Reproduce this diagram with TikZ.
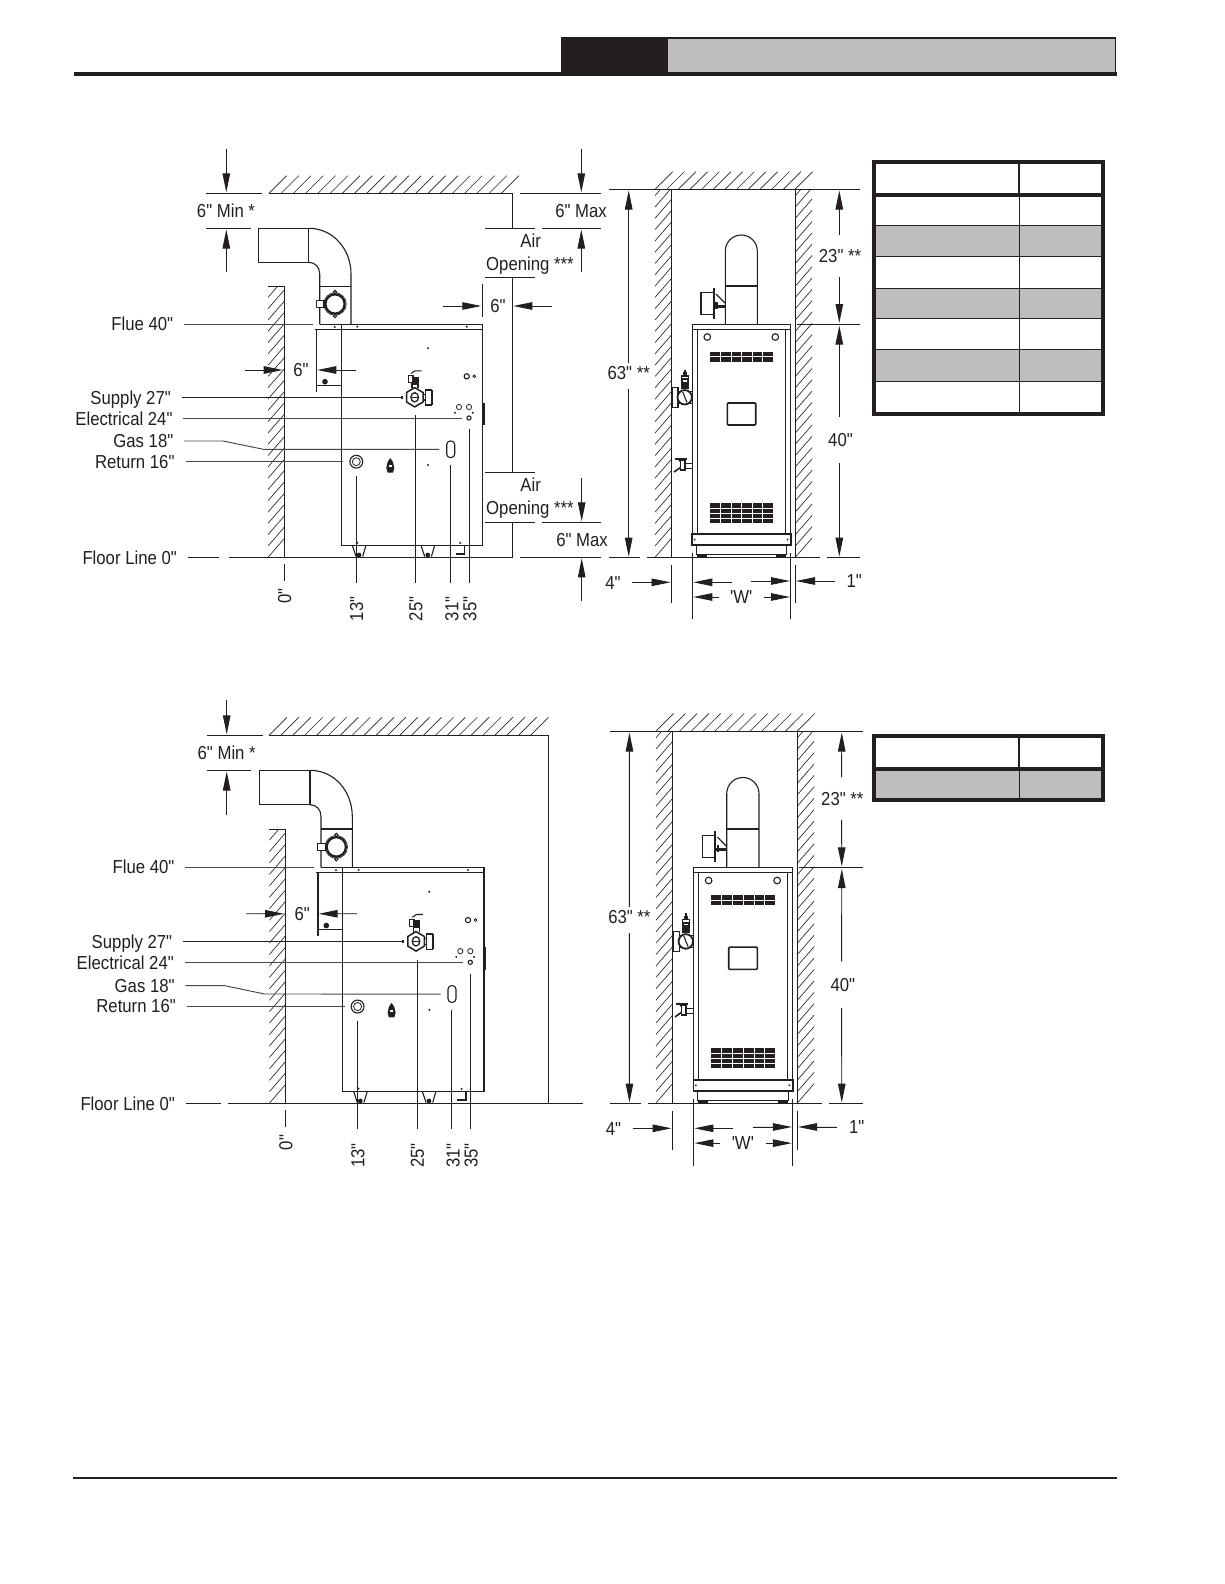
\documentclass[tikz,border=0pt]{standalone}
\usepackage{fontspec}
\usetikzlibrary{arrows.meta}
\newfontfamily\lf[FakeStretch=0.89]{Liberation Sans}
\definecolor{ink}{HTML}{231F20}
\definecolor{band}{HTML}{BFBEBC}
\tikzset{
  lbl/.style={font=\lf\fontsize{18.8}{20}\selectfont,inner sep=0pt,text=ink,text height=13.5pt,text depth=0pt},
  thin line/.style={line width=.95pt,draw=ink},
  ldr/.style={line width=.95pt,draw=black!72},
  dimarrow/.style={line width=.95pt,draw=ink,fill=ink,-{Triangle[length=19pt,width=7.5pt]}},
  hatchline/.style={line width=.65pt,draw=black!85},
  part/.style={line width=1.1pt,draw=ink},
  heavy/.style={line width=1.7pt,draw=ink},
  blob/.style={fill=ink,draw=none},
  rowline/.style={line width=.95pt,draw=ink},
  tableframe/.style={line width=3.7pt,draw=ink},
}
% hatched wall: x0 ytop x1 ybottom
\newcommand\hatchwall[4]{%
  \begin{scope}
    \clip (#1,#2) rectangle (#3,#4);
    \foreach \d in {0,11.3,...,440}{\draw[hatchline] (#1,#4-\d) -- ++(40,-46);}
  \end{scope}}
% hatched band: x0 x1 ybottom ytop
\newcommand\hatchband[4]{%
  \pgfmathtruncatemacro\hn{round((#2-#1)/12)}%
  \pgfmathsetmacro\hs{(#2-#1)/\hn}%
  \foreach \i in {0,...,\hn}{\draw[hatchline] (#1+\i*\hs,#3) -- (#1+\i*\hs+#3-#4,#4);}}
% ---------- side view of the boiler (with wall, leaders and dimensions)
\newcommand\sideview{%
  \hatchwall{268}{286.3}{284.3}{557.3}
  \draw[thin line] (268,286.3) -- (284.3,286.3) -- (284.3,557.3);
  % flue
  \draw[part] (308.7,228.3) -- (258.3,228.3) -- (258.3,262.3) -- (308.7,262.3);
  \draw[part] (308.7,228.3) -- (308.7,262.3);
  \draw[part] (308.7,228.3) .. controls (333,228.3) and (351,249) .. (351,274) -- (351,324.3);
  \draw[part] (308.7,262.3) .. controls (315,262.3) and (319.7,267) .. (319.7,274) -- (319.7,324.3);
  \draw[part] (319.7,286.3) -- (351,286.3);
  \draw[line width=2.2pt,draw=ink] (335,304) circle (9.6);
  \draw[line width=.7pt,draw=ink] (335,304) circle (11.2);
  \draw[part,fill=white] (335,292.2) circle (1.7);
  \draw[part,fill=white] (335,316) circle (1.7);
  \draw[part,fill=white] (316.3,300.3) rectangle (324,307.7);
  % boiler body
  \draw[part] (319.7,324.3) -- (482.7,324.3) -- (482.7,545.3) -- (341.3,545.3) -- (341.3,324.3);
  \draw[part] (314.7,329.3) -- (482.7,329.3);
  \draw[part] (316.7,329.3) -- (316.7,391.7);
  \draw[part] (316.7,385.3) -- (341.3,385.3);
  \fill[blob] (325,381.7) circle (2.8);
  \draw[line width=2pt,draw=ink] (483.5,403.3) -- (483.5,425.3);
  % small dots
  \foreach \p in {(428,348.3),(428,465),(357.3,326.7),(466.7,326.7),(334.7,327),(455,412.7),(472.7,412.7),(357.3,542.7),(460.3,543)}{\fill[blob] \p circle (1.1);}
  % openings
  \draw[part] (466.7,376.3) circle (2.6);
  \draw[line width=.8pt,draw=ink] (474.3,376.3) circle (1.4);
  \draw[line width=.8pt,draw=ink] (459,407) circle (2.6);
  \draw[line width=.8pt,draw=ink] (469,407) circle (2.6);
  \draw[part] (469,418) circle (2.1);
  \draw[part,rounded corners=3.6pt] (446.7,441) rectangle (454.7,457.6);
  \draw[part] (356.3,461.7) circle (6.4);
  \draw[line width=.8pt,draw=ink] (356.3,461.7) circle (4);
  \fill[blob] (390.3,458) -- (393,462) -- (394.3,468) -- (393,472.5) -- (387.6,472.5) -- (386.3,468) -- (387.6,462) -- cycle;
  \fill[white] (388.7,465) rectangle (391.9,467);
  % supply valve
  \draw[line width=1.5pt,draw=ink] (414.7,387.6) -- (423,392.5) -- (423,402) -- (414.7,406.9) -- (406.5,402) -- (406.5,392.5) -- cycle;
  \draw[line width=1.3pt,draw=ink] (414.7,397.3) ellipse (3.8 and 4.6);
  \draw[line width=1pt,draw=ink] (411.5,397.3) -- (418,397.3);
  \draw[part] (423,394.5) -- (425.5,394.5) -- (425.5,400) -- (423,400);
  \draw[part,fill=white] (425.5,390) rectangle (431.5,405);
  \draw[line width=2pt,draw=ink] (432,390) -- (432,405);
  \fill[blob] (400.5,395.5) rectangle (402.5,398.5);
  \draw[part] (412,388) -- (412,383) -- (418,383) -- (418,388);
  \fill[blob] (411.5,376.5) rectangle (418.5,384.5);
  \draw[part] (408.5,375.3) rectangle (413,382.5);
  \draw[part] (411,373.5) -- (415,370.8) -- (421.5,370.8);
  % feet and bracket
  \foreach \x in {359,427.7}{
    \draw[part] (\x-6.7,545.3) -- (\x-3,556.5);
    \draw[part] (\x+7,545.3) -- (\x+3.7,556.5);
    \fill[blob] (\x,555) circle (2.4);}
  \draw[line width=1.4pt,draw=ink] (464.7,545.7) -- (464.7,554) -- (456,554);
  % leaders
  \node[lbl,anchor=east] (flue) at (173.3,324) {Flue 40"};
  \node[lbl,anchor=east] (supply) at (171,397.3) {Supply 27"};
  \node[lbl,anchor=east] (elec) at (172.7,418.3) {Electrical 24"};
  \node[lbl,anchor=east] (gas) at (173.5,441) {Gas 18"};
  \node[lbl,anchor=east] (ret) at (174.7,461.3) {Return 16"};
  \coordinate (flueend) at (312.7,324);
  \coordinate (supplyend) at (402,397.3);
  \coordinate (elecend) at (461.7,418.3);
  \coordinate (gasend) at (439.3,449.3);
  \coordinate (retend) at (343.3,461.3);
  \draw[ldr] ([xshift=10.7pt]flue.east) -- (flueend);
  \draw[thin line] ([xshift=11pt]supply.east) -- (supplyend);
  \draw[ldr] ([xshift=10.5pt]elec.east) -- (elecend);
  \draw[ldr] ([xshift=10.5pt]gas.east) -- (223,441) -- (263.3,449.3) -- (gasend);
  \draw[ldr] ([xshift=11.3pt]ret.east) -- (retend);
  % clearance 6 in
  \node[lbl] (six) at (301,370) {6"};
  \coordinate (wl) at (282.7,370);
  \coordinate (wr) at (317.3,370);
  \draw[dimarrow] (245,370) -- (wl);
  \draw[dimarrow] (355.7,370) -- (wr);
  % vertical witness lines
  \draw[thin line] (284.3,564) -- (284.3,581);
  \draw[thin line] (356.3,476) -- (356.3,582.7);
  \draw[thin line] (415.7,415.3) -- (415.7,582.7);
  \draw[thin line] (450.3,465) -- (450.3,582.7);
  \draw[thin line] (469.3,429.3) -- (469.3,582.7);
  \node[lbl,rotate=90] (n0) at (284.3,596) {0"};
  \node[lbl,rotate=90] (n13) at (356.3,609) {13"};
  \node[lbl,rotate=90] (n25) at (415.7,609) {25"};
  \node[lbl,rotate=90] (n31) at (451.5,609) {31"};
  \node[lbl,rotate=90] (n35) at (469.5,609) {35"};
}
% ---------- louvers of the front view
\newcommand\louver[3]{%
  \fill[blob] (710,#1) rectangle (772.7,#2);
  \foreach \x in {720.3,731,741.7,752.3,762.3}{\draw[white,line width=.9pt] (\x,#1) -- (\x,#2);}
  \foreach \y in {#3}{\draw[white,line width=.9pt] (710,\y) -- (772.7,\y);}}
% ---------- front view of the boiler
\newcommand\frontview{%
  \hatchband{655}{795}{189.3}{171.7}
  \hatchwall{655}{189.3}{671.3}{557.3}
  \hatchwall{795.3}{189.3}{812}{557.3}
  \draw[thin line] (671.3,557.3) -- (671.3,189.3) -- (795.3,189.3) -- (795.3,557.3);
  % flue
  \draw[part] (725.3,324.3) -- (725.3,251) arc[start angle=180,end angle=360,x radius=16,y radius=16] -- (757.3,324.3);
  \draw[part] (725.3,286) -- (757.3,286);
  % burner
  \draw[part] (713.7,292.7) -- (701,292.7) -- (701,314.3) -- (713.7,314.3);
  \draw[line width=1.8pt,draw=ink] (714,288.3) -- (714,318.7);
  \draw[part] (716,294) -- (725,303);
  \fill[blob] (715,304.5) rectangle (725,307.5);
  \fill[blob] (715.3,302) rectangle (717.5,309);
  % cabinet
  \draw[part] (692.3,324.3) rectangle (790.7,329.3);
  \draw[part] (692.3,329.3) -- (692.3,534.3);
  \draw[part] (790.7,329.3) -- (790.7,534.3);
  \draw[part] (697.3,329.3) -- (697.3,534.3);
  \draw[part] (785.3,329.3) -- (785.3,534.3);
  \draw[heavy] (692.3,534.3) rectangle (790.7,545.3);
  \draw[part] (696.5,545.3) -- (696.5,554.7) -- (786.7,554.7) -- (786.7,545.3);
  \fill[blob] (697,554.7) rectangle (707,557);
  \fill[blob] (776,554.7) rectangle (786,557);
  \fill[blob] (694.7,539.7) circle (1);
  \fill[blob] (787.5,539.7) circle (1);
  \draw[part] (707.3,337) circle (3.3);
  \draw[part] (775.3,337) circle (3.3);
  \louver{351.7}{361.7}{356.7}
  \louver{503}{523}{508,513.5,518}
  \draw[line width=1.6pt,draw=ink,rounded corners=1pt] (727.3,403) rectangle (755.7,425);
  % supply valve
  \draw[part,fill=white] (672,387.3) rectangle (678,407.3);
  \draw[part] (678,391.7) -- (681,391.7);
  \draw[part] (678,403.3) -- (681,403.3);
  \draw[part] (688,391.7) -- (692.3,391.7);
  \draw[part] (688,403.3) -- (692.3,403.3);
  \draw[part,fill=white] (681.2,376) rectangle (688.2,388);
  \fill[blob] (681.2,378) rectangle (688.2,388);
  \fill[white] (682.5,380) rectangle (686.8,381.5);
  \fill[blob] (682.5,372) rectangle (686.9,376);
  \fill[blob] (684,369.5) rectangle (685.5,372);
  \draw[line width=1.8pt,draw=ink,fill=white] (684.7,397.3) circle (7.2);
  \draw[part] (682.7,392) -- (687,402.5);
  % gas cock
  \draw[part] (692.3,463.7) -- (684.5,463.7);
  \draw[part] (692.3,468.7) -- (684.5,468.7);
  \draw[line width=1.3pt,draw=ink,fill=white] (680.5,460.7) rectangle (685,470);
  \draw[line width=1.6pt,draw=ink] (675,459) -- (686.7,459);
  \draw[part] (677.5,458) -- (680.5,462);
  \draw[line width=1.6pt,draw=ink] (680.5,467.5) -- (674,472);
  % dimension lines
  \draw[thin line] (609,189.3) -- (671.3,189.3);
  \draw[thin line] (795.3,189.3) -- (860,189.3);
  \draw[thin line] (796.7,324.3) -- (860,324.3);
  \draw[thin line] (609,557.3) -- (640,557.3);
  \draw[thin line] (647,557.3) -- (820,557.3);
  \draw[thin line] (827,557.3) -- (860,557.3);
  \node[lbl] (n63) at (628.7,373) {63" **};
  \node[lbl] (n23) at (840,256) {23" **};
  \node[lbl] (n40) at (840.5,440) {40"};
  \coordinate (a1) at (628.7,190.5);
  \coordinate (a2) at (628.7,556.7);
  \coordinate (a3) at (839.3,190.5);
  \coordinate (a4) at (839.3,323);
  \coordinate (a5) at (839.3,325.6);
  \coordinate (a6) at (839.3,556.7);
  \draw[dimarrow] (628.7,363) -- (a1);
  \draw[dimarrow] (628.7,389) -- (a2);
  \draw[dimarrow] (839.3,234.7) -- (a3);
  \draw[dimarrow] (839.3,277) -- (a4);
  \draw[dimarrow] (839.3,417) -- (a5);
  \draw[dimarrow] (839.3,463) -- (a6);
  % width dimensions
  \draw[thin line] (671.3,565) -- (671.3,603.3);
  \draw[thin line] (795.3,565) -- (795.3,603.3);
  \draw[thin line] (692.3,553) -- (692.3,619.3);
  \draw[thin line] (790.3,553) -- (790.3,619.3);
  \node[lbl] (n4) at (613,582.3) {4"};
  \node[lbl] (n1) at (854.3,581) {1"};
  \node[lbl] (nw) at (741.3,597) {'W'};
  \draw[dimarrow] (632,582.3) -- (670.5,582.3);
  \draw[dimarrow] (731.7,582.3) -- (693.3,582.3);
  \draw[dimarrow] (751.3,581) -- (790,581);
  \draw[dimarrow] (835,581) -- (796,581);
  \draw[dimarrow] (719,597) -- (693.3,597);
  \draw[dimarrow] (764,597) -- (790,597);
}
\begin{document}
\begin{tikzpicture}[x=1pt,y=-1pt]
\useasboundingbox (0,0) rectangle (1224,1584);
\fill[white] (0,0) rectangle (1224,1584);
% page header
\fill[band] (668,38.7) rectangle (1115,72);
\draw[line width=1.6pt,draw=ink] (668,38) -- (1115.5,38) -- (1115.5,72);
\fill[ink] (561,37.3) rectangle (668,74);
\fill[ink] (74,72) rectangle (1116.5,75.7);
% page footer
\fill[ink] (73,1476.8) rectangle (1116.5,1479.2);

% ========= upper side view
\sideview
\hatchband{269}{501.4}{193.3}{175.7}
\draw[thin line] (269,193.3) -- (512.7,193.3) -- (512.7,228.3);
\draw[thin line] (206,193.3) -- (262,193.3);
\draw[thin line] (206,228.3) -- (251,228.3);
\node[lbl] (minA) at (226,210.7) {6" Min *};
\coordinate (minAt) at (226.3,192.3);
\coordinate (minAb) at (226.3,229.5);
\draw[dimarrow] (226.3,149) -- (minAt);
\draw[dimarrow] (226.3,271.7) -- (minAb);
% upper air opening
\draw[thin line] (485,228.3) -- (535,228.3);
\draw[thin line] (542,228.3) -- (601,228.3);
\draw[thin line] (520,193.3) -- (601,193.3);
\draw[thin line] (485,277) -- (535,277);
\draw[thin line] (512.7,277) -- (512.7,472.3);
\node[lbl] (air1) at (530.7,240.7) {Air};
\node[lbl,anchor=west] (open1) at (486,264) {Opening ***};
\node[lbl] (max1) at (581,210.7) {6" Max};
\draw[dimarrow] (581.3,149) -- (581.3,192.3);
\draw[dimarrow] (581.3,271.7) -- (581.3,229.5);
% 6 in to air wall
\draw[thin line] (482.3,284) -- (482.3,316.7);
\node[lbl] (six2) at (498,306) {6"};
\draw[dimarrow] (443,306) -- (481.3,306);
\draw[dimarrow] (551.7,306) -- (513.3,306);
% lower air opening
\draw[thin line] (485,472.3) -- (535,472.3);
\draw[thin line] (485,522.3) -- (535,522.3);
\draw[thin line] (541.7,522.3) -- (601,522.3);
\draw[thin line] (512.7,522.3) -- (512.7,557.3);
\node[lbl] (air2) at (530.7,485) {Air};
\node[lbl,anchor=west] (open2) at (486,507.3) {Opening ***};
\node[lbl] (max2) at (582,540) {6" Max};
\draw[dimarrow] (581.7,478.3) -- (581.7,521.3);
\draw[dimarrow] (581.7,600.7) -- (581.7,558.3);
% floor
\node[lbl,anchor=east] (floorA) at (177,557.3) {Floor Line 0"};
\coordinate (floorAend) at (219,557.3);
\draw[thin line] ([xshift=11pt]floorA.east) -- (floorAend);
\draw[thin line] (228.5,557.3) -- (512.7,557.3);
\draw[thin line] (520,557.3) -- (601,557.3);

% upper front view
\frontview

% upper table
\fill[band] (873.8,225.3) rectangle (1103.2,256.3);
\fill[band] (873.8,288.3) rectangle (1103.2,318.3);
\fill[band] (873.8,349.3) rectangle (1103.2,381);
\foreach \y in {225.3,256.3,288.3,318.3,349.3,381}{\draw[rowline] (873.8,\y) -- (1103.2,\y);}
\draw[rowline] (1019.3,195) -- (1019.3,414.2);
\draw[line width=1.7pt,draw=ink] (1019.3,161.8) -- (1019.3,195);
\draw[tableframe] (873.8,161.8) rectangle (1103.2,414.2);
\draw[tableframe] (873.8,195) -- (1103.2,195);

% ========= lower side view
\begin{scope}[shift={(1.3,539.2)},yscale=1.0122]
\sideview
\end{scope}
\hatchband{269}{530.5}{735.3}{717.3}
\draw[thin line] (269,735.3) -- (548.3,735.3) -- (548.3,1103.3);
\draw[thin line] (207,735.3) -- (263,735.3);
\draw[thin line] (207,770.3) -- (251,770.3);
\node[lbl] (minB) at (226.7,753) {6" Min *};
\coordinate (minBt) at (226.7,734.3);
\coordinate (minBb) at (226.7,771.5);
\draw[dimarrow] (226.7,700) -- (minBt);
\draw[dimarrow] (226.7,814.7) -- (minBb);
\node[lbl,anchor=east] (floorB) at (175,1103.3) {Floor Line 0"};
\coordinate (floorBend) at (221,1103.3);
\draw[thin line] ([xshift=11pt]floorB.east) -- (floorBend);
\draw[thin line] (228,1103.3) -- (583,1103.3);

% lower front view
\begin{scope}[shift={(-4.37,540.1)},xscale=1.008,yscale=1.0101]
\frontview
\end{scope}

% lower table
\fill[band] (873.8,768.7) rectangle (1103.2,799.8);
\draw[rowline] (1019.3,768.7) -- (1019.3,799.8);
\draw[line width=1.7pt,draw=ink] (1019.3,735.8) -- (1019.3,768.7);
\draw[tableframe] (873.8,735.8) rectangle (1103.2,799.8);
\draw[tableframe] (873.8,768.7) -- (1103.2,768.7);
\end{tikzpicture}
\end{document}
